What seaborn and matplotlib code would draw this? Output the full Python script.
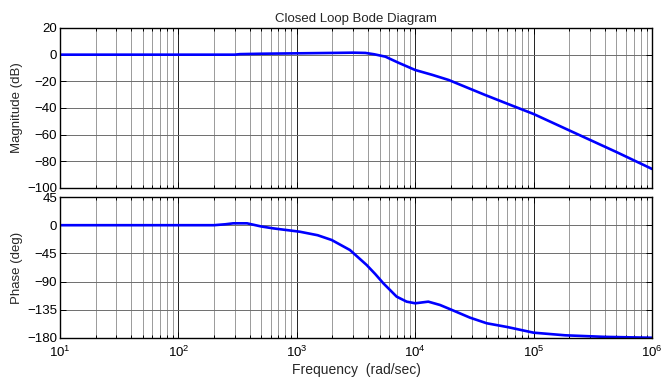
import numpy as np
import pandas as pd
import matplotlib
matplotlib.use("Agg")
import matplotlib.pyplot as plt
import seaborn as sns
from matplotlib.ticker import LogLocator, FixedLocator

# ---- data ----
freq_mag = [10, 100, 200, 300, 330, 500, 1000, 2000, 3000, 3800, 4500, 5600,
            7200, 10000, 14000, 19200, 28000, 38900, 60000, 100000, 200000,
            500000, 1000000]
mag_db = [0, 0, 0, 0, 0.4, 0.7, 1.0, 1.3, 1.5, 1.3, 0.3, -1.5,
          -6.0, -11.5, -15.2, -19.0, -25.0, -30.2, -36.8, -44.5, -56.8,
          -73.0, -85.7]

freq_ph = [10, 100, 200, 250, 290, 380, 500, 630, 1060, 1500, 1970, 2810,
           3890, 4600, 5380, 6970, 8470, 10000, 12900, 16200, 19700, 29000,
           40200, 60000, 100000, 185000, 400000, 1000000]
phase_deg = [0, 0, 0, 1.5, 3, 3, -2, -5, -10.4, -16, -23.6, -39.6,
             -63.5, -78, -92.7, -114, -122, -124.6, -122, -127.3, -134, -147.5,
             -156.5, -162.5, -171.5, -175.7, -178.2, -179.6]

mag_ticks = [20, 0, -20, -40, -60, -80, -100]
phase_ticks = [45, 0, -45, -90, -135, -180]

df_mag = pd.DataFrame({"w": freq_mag, "v": mag_db})
df_ph = pd.DataFrame({"w": freq_ph, "v": phase_deg})

sns.set_theme(style="white")
plt.rcParams["font.family"] = ["Liberation Sans", "DejaVu Sans"]
plt.rcParams["mathtext.fontset"] = "custom"
plt.rcParams["mathtext.rm"] = "Liberation Sans"
plt.rcParams["mathtext.it"] = "Liberation Sans"
plt.rcParams["mathtext.default"] = "regular"
plt.rcParams["font.size"] = 9.5

fig = plt.figure(figsize=(6.64, 3.83), dpi=100)
W, H = 664, 383
ax1 = fig.add_axes([60 / W, 1 - 188 / H, 592 / W, 160 / H])
ax2 = fig.add_axes([60 / W, 1 - 338 / H, 592 / W, 141 / H])

blue = (0, 0, 1)
sns.lineplot(data=df_mag, x="w", y="v", ax=ax1, color=blue, lw=1.9,
             estimator=None, sort=False)
sns.lineplot(data=df_ph, x="w", y="v", ax=ax2, color=blue, lw=1.9,
             estimator=None, sort=False)

for ax, ticks in ((ax1, mag_ticks), (ax2, phase_ticks)):
    ax.set_xscale("log")
    ax.set_xlim(10, 1e6)
    ax.set_ylim(min(ticks), max(ticks))
    ax.yaxis.set_major_locator(FixedLocator(ticks))
    ax.xaxis.set_major_locator(LogLocator(base=10, numticks=10))
    ax.xaxis.set_minor_locator(LogLocator(base=10, subs=np.arange(2, 10), numticks=100))
    ax.grid(True, which="major", axis="x", color="#222222", lw=0.7, ls="-")
    ax.grid(True, which="minor", axis="x", color="#9a9a9a", lw=0.7, ls="-")
    ax.grid(True, which="major", axis="y", color="#6e6e6e", lw=0.7, ls="-")
    ax.set_axisbelow(True)
    ax.tick_params(which="both", direction="in", top=True, right=True,
                   bottom=True, left=True, labelsize=9.5, colors="black",
                   pad=2)
    ax.tick_params(which="major", length=4, width=0.7)
    ax.tick_params(which="minor", length=2.5, width=0.7)
    for s in ax.spines.values():
        s.set_color("black")
        s.set_linewidth(1.0)
    ax.set_xlabel("")
    ax.set_ylabel("")

ax1.tick_params(labelbottom=False)
ax2.tick_params(axis="x", which="major", pad=5)
ax1.set_ylabel("Magnitude (dB)", fontsize=9.5, labelpad=3)
ax2.set_ylabel("Phase (deg)", fontsize=9.5, labelpad=3)
ax2.set_xlabel("Frequency  (rad/sec)", fontsize=10, labelpad=2)
ax1.set_title("Closed Loop Bode Diagram", fontsize=9.5, pad=4)

fig.savefig("out.png", dpi=100, facecolor="white")
